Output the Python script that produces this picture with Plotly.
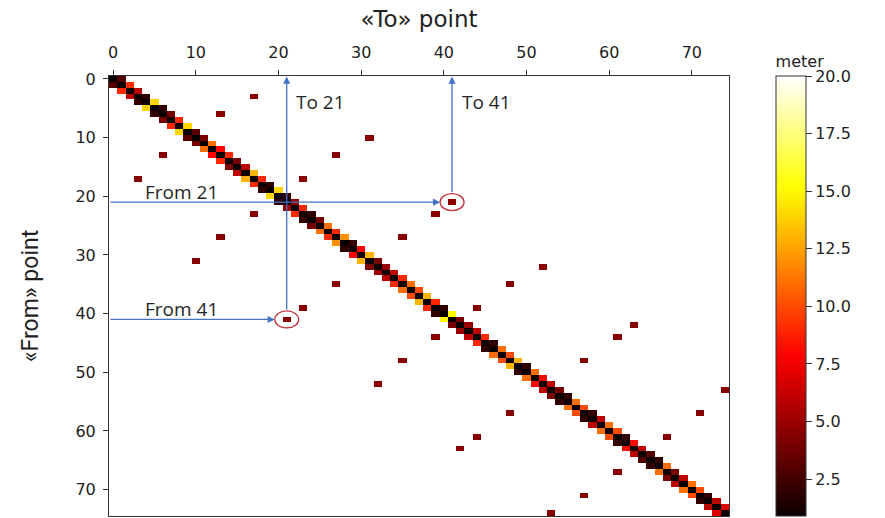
import numpy as np
import plotly.graph_objects as go

# ---------------- data ----------------
n_points = 75
# distance (meter) between consecutive points i -> i+1, i = 0..73
step_dist = [3, 9, 6, 2, 14, 2, 4, 9, 14, 3,
             4, 11, 8, 9, 4, 6, 13, 9, 2, 14,
             2, 5, 9, 2, 4, 11, 9, 12, 2, 8,
             13, 4, 5, 6, 9, 11, 10, 13, 9, 2,
             15, 4, 5, 6, 9, 2, 11, 10, 13, 2,
             11, 8, 6, 4, 2, 11, 10, 2, 6, 11,
             10, 2, 8, 6, 3, 2, 11, 4, 6, 11,
             10, 2, 6, 7]
# extra (non-consecutive) links: from, to, distance
extra_from = [3, 6, 10, 13, 17, 21, 23, 27, 32, 35, 39, 42, 44, 48, 53, 57, 61]
extra_to = [17, 13, 31, 27, 23, 41, 39, 35, 52, 48, 44, 63, 61, 57, 74, 71, 67]
extra_dist = [4.5, 4.5, 4.5, 4.5, 4.5, 4.5, 4.5, 4.5, 4.5, 4.5, 4.5, 4.5, 4.5, 4.5, 4.5, 4.5, 4.5]
self_dist = 0.0
# highlighted pair (From 21 -> To 41 and From 41 -> To 21)
hl_a, hl_b = 21, 41

x_tick_vals = [0, 10, 20, 30, 40, 50, 60, 70]
y_tick_vals = [0, 10, 20, 30, 40, 50, 60, 70]
cb_tick_vals = [2.5, 5.0, 7.5, 10.0, 12.5, 15.0, 17.5, 20.0]
cb_tick_text = ["2.5", "5.0", "7.5", "10.0", "12.5", "15.0", "17.5", "20.0"]
z_min, z_max = 0.9, 20.0

# ---------------- matrix ----------------
Z = np.full((n_points, n_points), np.nan)
for i in range(n_points):
    Z[i, i] = self_dist
for i, d in enumerate(step_dist):
    Z[i, i + 1] = d
    Z[i + 1, i] = d
for a, b, d in zip(extra_from, extra_to, extra_dist):
    Z[a, b] = d
    Z[b, a] = d

# matplotlib "hot"
hot = [[0.0, "rgb(11,0,0)"], [0.365079, "rgb(255,0,0)"],
       [0.746032, "rgb(255,255,0)"], [1.0, "rgb(255,255,255)"]]

plot_h = 518 - 76 - 2
fig = go.Figure(go.Heatmap(
    z=Z, x=list(range(n_points)), y=list(range(n_points)),
    colorscale=hot, zmin=z_min, zmax=z_max, hoverongaps=False,
    colorbar=dict(
        x=1.076, xanchor="left", xpad=0, ypad=0,
        y=0, yanchor="bottom", lenmode="pixels", len=plot_h + 24,
        thickness=30, outlinewidth=1, outlinecolor="#333",
        tickmode="array", tickvals=cb_tick_vals, ticktext=cb_tick_text,
        ticks="outside", ticklen=6, tickcolor="#333",
        tickfont=dict(family="DejaVu Sans", size=16, color="#222"),
        title=dict(text="meter", side="top",
                   font=dict(family="DejaVu Sans", size=16, color="#222")),
    ),
))

arrow_col = "#4472C4"
circ_col = "#C0303A"
r = 1.45
ann_font = dict(family="Open Sans, sans-serif", size=19, color="#262626")

annotations = []
shapes = []
for frm, to in [(hl_a, hl_b), (hl_b, hl_a)]:
    shapes.append(dict(type="circle", xref="x", yref="y",
                       x0=to - r, x1=to + r, y0=frm - r, y1=frm + r,
                       line=dict(color=circ_col, width=1.3)))
    annotations.append(dict(x=to, y=-0.4, ax=to, ay=frm - r, xref="x", yref="y",
                            axref="x", ayref="y", text="", showarrow=True,
                            arrowhead=2, arrowsize=1.1, arrowwidth=1.3,
                            arrowcolor=arrow_col, standoff=0, startstandoff=0))
    annotations.append(dict(x=to - r, y=frm, ax=-0.5, ay=frm, xref="x", yref="y",
                            axref="x", ayref="y", text="", showarrow=True,
                            arrowhead=2, arrowsize=1.1, arrowwidth=1.3,
                            arrowcolor=arrow_col, standoff=0, startstandoff=0))
    annotations.append(dict(x=to + 0.9, y=3.9, xref="x", yref="y", text=f"To {to}",
                            showarrow=False, xanchor="left", yanchor="middle",
                            font=ann_font))
    annotations.append(dict(x=3.6, y=frm - 1.7, xref="x", yref="y", text=f"From {frm}",
                            showarrow=False, xanchor="left", yanchor="middle",
                            font=ann_font))

axis_font = dict(family="DejaVu Sans", size=16, color="#222")
fig.update_layout(
    width=885, height=518,
    margin=dict(l=109, r=156, t=76, b=2, autoexpand=False),
    paper_bgcolor="white", plot_bgcolor="white",
    annotations=annotations, shapes=shapes,
    xaxis=dict(side="top", range=[-0.5, n_points - 0.5], tickmode="array",
               tickvals=x_tick_vals, ticks="outside", ticklen=5, tickcolor="#333",
               ticklabelstandoff=6,
               showline=True, linecolor="#333", linewidth=1, mirror=True,
               showgrid=False, zeroline=False, tickfont=axis_font, automargin=False,
               title=dict(text="«To» point", standoff=8,
                          font=dict(family="DejaVu Sans", size=23, color="#222"))),
    yaxis=dict(range=[n_points - 0.5, -0.5], tickmode="array",
               tickvals=y_tick_vals, ticks="outside", ticklen=5, tickcolor="#333",
               ticklabelstandoff=4,
               showline=True, linecolor="#333", linewidth=1, mirror=True,
               showgrid=False, zeroline=False, tickfont=axis_font, automargin=False,
               title=dict(text="«From» point", standoff=30,
                          font=dict(family="Liberation Sans Narrow, Roboto, sans-serif",
                                    size=23, color="#222"))),
)

fig.write_html("out.html", config={"displayModeBar": False},
               post_script="document.body.style.margin='0';")
